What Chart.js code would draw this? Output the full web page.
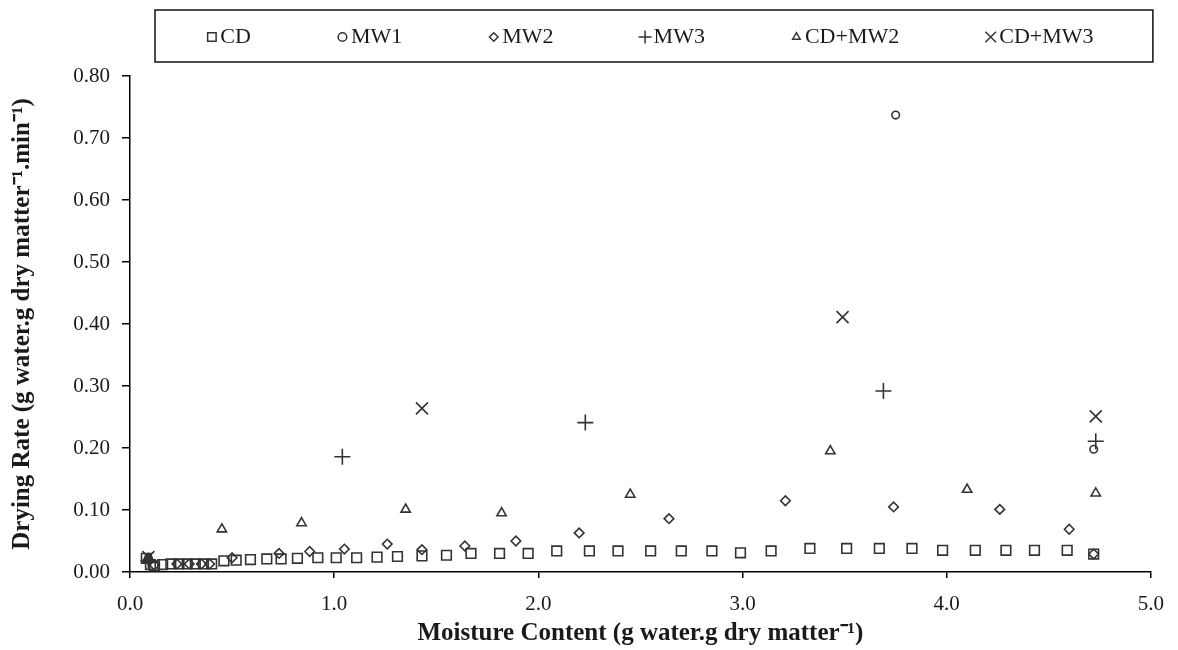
<!DOCTYPE html>
<html>
<head>
<meta charset="utf-8">
<script src="https://cdn.jsdelivr.net/npm/chart.js@4.4.0/dist/chart.umd.min.js"></script>
<style>
  html, body { margin: 0; padding: 0; background: #fff; }
</style>
</head>
<body>
<canvas id="chart" width="1178" height="650"></canvas>
<script>
// series
var seriesNames = ['CD', 'MW1', 'MW2', 'MW3', 'CD+MW2', 'CD+MW3'];

var cdX = [0.08, 0.10, 0.12, 0.16, 0.20, 0.24, 0.28, 0.32, 0.36, 0.40, 0.46, 0.52, 0.59, 0.67, 0.74,
           0.82, 0.92, 1.01, 1.11, 1.21, 1.31, 1.43, 1.55, 1.67, 1.81, 1.95, 2.09, 2.25, 2.39, 2.55,
           2.70, 2.85, 2.99, 3.14, 3.33, 3.51, 3.67, 3.83, 3.98, 4.14, 4.29, 4.43, 4.59, 4.72];
var cdY = [0.022, 0.012, 0.010, 0.012, 0.013, 0.013, 0.013, 0.013, 0.013, 0.013, 0.018, 0.019, 0.020, 0.021, 0.021,
           0.022, 0.023, 0.023, 0.023, 0.024, 0.025, 0.026, 0.027, 0.030, 0.030, 0.030, 0.034, 0.034, 0.034, 0.034,
           0.034, 0.034, 0.031, 0.034, 0.038, 0.038, 0.038, 0.038, 0.035, 0.035, 0.035, 0.035, 0.035, 0.029];

var mw1X = [0.09, 3.75, 4.72];
var mw1Y = [0.022, 0.737, 0.198];

var mw2X = [0.09, 0.12, 0.23, 0.29, 0.35, 0.39, 0.50, 0.73, 0.88, 1.05, 1.26, 1.43, 1.64, 1.89, 2.20,
            2.64, 3.21, 3.74, 4.26, 4.60, 4.72];
var mw2Y = [0.020, 0.011, 0.013, 0.013, 0.013, 0.013, 0.023, 0.030, 0.033, 0.037, 0.045, 0.036, 0.042, 0.050, 0.063,
            0.086, 0.115, 0.105, 0.101, 0.069, 0.029];

var mw3X = [0.09, 1.04, 2.23, 3.69, 4.73];
var mw3Y = [0.018, 0.186, 0.241, 0.292, 0.211];

var cdMw2X = [0.09, 0.45, 0.84, 1.35, 1.82, 2.45, 3.43, 4.10, 4.73];
var cdMw2Y = [0.020, 0.069, 0.079, 0.101, 0.095, 0.125, 0.195, 0.133, 0.127];

var cdMw3X = [0.09, 1.43, 3.49, 4.73];
var cdMw3Y = [0.024, 0.264, 0.411, 0.251];

var xTickValues = [0, 1, 2, 3, 4, 5];
var xTickLabels = ['0.0', '1.0', '2.0', '3.0', '4.0', '5.0'];
var yTickValues = [0, 0.1, 0.2, 0.3, 0.4, 0.5, 0.6, 0.7, 0.8];
var yTickLabels = ['0.00', '0.10', '0.20', '0.30', '0.40', '0.50', '0.60', '0.70', '0.80'];

var FONT = '"Liberation Serif", "Times New Roman", serif';
var INK = '#1a1a1a';

function pairs(xs, ys) {
    return xs.map(function (x, i) { return { x: x, y: ys[i] }; });
}

function series(label, xs, ys, style, radius) {
    return {
        label: label,
        data: pairs(xs, ys),
        pointStyle: style,
        pointRadius: radius,
        pointHoverRadius: radius,
        pointBorderWidth: 1.6,
        borderColor: '#333',
        backgroundColor: 'rgba(0,0,0,0)',
        showLine: false
    };
}

var datasets = [
    series(seriesNames[0], cdX, cdY, 'rect', 6.8),
    series(seriesNames[1], mw1X, mw1Y, 'circle', 3.8),
    series(seriesNames[2], mw2X, mw2Y, 'rectRot', 4.8),
    series(seriesNames[3], mw3X, mw3Y, 'cross', 8),
    series(seriesNames[4], cdMw2X, cdMw2Y, 'triangle', 5.4),
    series(seriesNames[5], cdMw3X, cdMw3Y, 'crossRot', 8.5)
];

// boxed legend across the top, drawn with the library's point helper
var boxLegend = {
    id: 'boxLegend',
    afterDraw: function (chart) {
        var ctx = chart.ctx;
        var area = chart.chartArea;
        var left = area.left + 25, right = area.right + 2, top = 10, bottom = 62;
        var cy = (top + bottom) / 2 + 1;
        ctx.save();
        ctx.strokeStyle = '#111';
        ctx.lineWidth = 1.5;
        ctx.strokeRect(left, top, right - left, bottom - top);

        ctx.font = '22px ' + FONT;
        ctx.textBaseline = 'middle';
        var markW = 11, gap = 3, spacing = 86;
        var widths = datasets.map(function (d) { return markW + gap + ctx.measureText(d.label).width; });
        var total = widths.reduce(function (a, b) { return a + b; }, 0) + spacing * (widths.length - 1);
        var x = (left + right) / 2 - 4 - total / 2;
        datasets.forEach(function (d, i) {
            ctx.strokeStyle = '#333';
            ctx.fillStyle = 'rgba(0,0,0,0)';
            var r = d.pointStyle === 'cross' ? 6.5 : d.pointStyle === 'crossRot' ? 7.5 : (d.pointStyle === 'rect' ? 6 : 4.3);
            Chart.helpers.drawPoint(ctx, { pointStyle: d.pointStyle, radius: r, rotation: 0, borderWidth: 1.4 }, x + markW / 2, cy);
            ctx.fillStyle = INK;
            ctx.fillText(d.label, x + markW + gap, cy);
            x += widths[i] + spacing;
        });
        ctx.restore();
    }
};

new Chart(document.getElementById('chart').getContext('2d'), {
    type: 'scatter',
    data: { datasets: datasets },
    options: {
        responsive: false,
        animation: false,
        layout: { padding: { left: 4, right: 23, top: 76, bottom: 0 } },
        plugins: {
            legend: { display: false },
            tooltip: { enabled: false }
        },
        scales: {
            x: {
                type: 'linear',
                min: 0,
                max: 5,
                afterBuildTicks: function (s) { s.ticks = xTickValues.map(function (v) { return { value: v }; }); },
                ticks: {
                    callback: function (v, i) { return xTickLabels[i]; },
                    font: { family: FONT, size: 21 },
                    color: INK,
                    padding: 14
                },
                grid: { drawOnChartArea: false, drawTicks: true, tickLength: 6, color: '#000', lineWidth: 1.5 },
                border: { color: '#000', width: 1.5 },
                title: {
                    display: true,
                    text: 'Moisture Content (g water.g dry matter\u207B\u00B9)',
                    font: { family: FONT, size: 25, weight: 'bold' },
                    color: INK,
                    padding: { top: 0, bottom: 1 }
                },
                afterFit: function (s) { s.height = 78; }
            },
            y: {
                min: 0,
                max: 0.8,
                afterBuildTicks: function (s) { s.ticks = yTickValues.map(function (v) { return { value: v }; }); },
                ticks: {
                    callback: function (v, i) { return yTickLabels[i]; },
                    font: { family: FONT, size: 21 },
                    color: INK,
                    padding: 12
                },
                grid: { drawOnChartArea: false, drawTicks: true, tickLength: 8, color: '#000', lineWidth: 1.5 },
                border: { color: '#000', width: 1.5 },
                title: {
                    display: true,
                    text: 'Drying Rate (g water.g dry matter\u207B\u00B9.min\u207B\u00B9)',
                    font: { family: FONT, size: 25, weight: 'bold' },
                    color: INK,
                    padding: { top: 4, bottom: 4 }
                },
                afterFit: function (s) { s.width = 126; }
            }
        }
    },
    plugins: [boxLegend]
});
</script>
</body>
</html>
